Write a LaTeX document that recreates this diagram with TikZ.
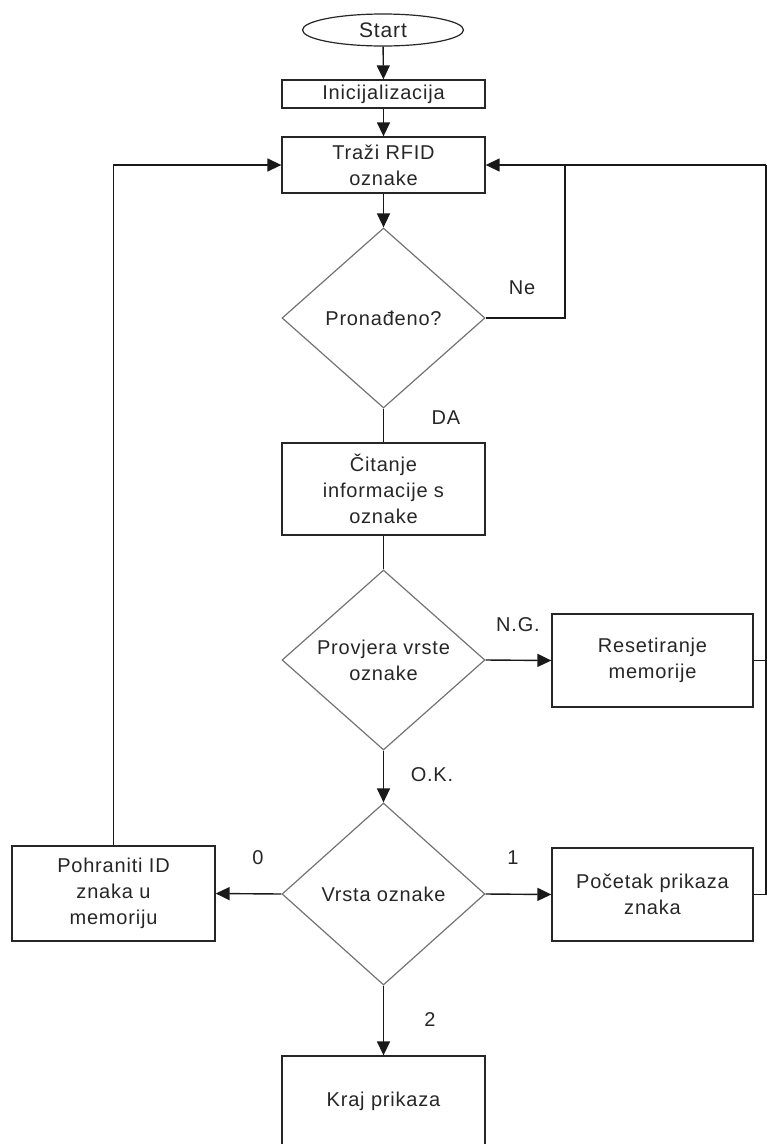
\documentclass[tikz,border=0pt]{standalone}
\usepackage{fontspec}
\setmainfont{Liberation Sans}[LetterSpace=4]
\usetikzlibrary{shapes.geometric,arrows.meta}
\begin{document}
\begin{tikzpicture}[x=1pt,y=-1pt,
  every node/.style={font=\fontsize{20}{26}\selectfont, text=black!85},
  box/.style={draw=black!85, line width=1.3pt, rectangle, inner sep=0pt, align=center},
  dia/.style={draw=black!55, line width=1.2pt, diamond, inner sep=0pt, minimum width=203pt, minimum height=180pt, aspect=1.128, align=center},
  line/.style={draw=black!90, line width=1.4pt},
  arr/.style={line, -{Triangle[length=14pt,width=13pt]}},
  lbl/.style={font=\fontsize{20}{22}\selectfont}]
\useasboundingbox (0,0) rectangle (767,1144);
\node[draw=black!85, line width=1.2pt, ellipse, minimum width=161pt, minimum height=32pt, inner sep=0pt, font=\fontsize{21}{24}\selectfont] (start) at (383,30) {Start};
\node[box, minimum width=203pt, minimum height=28pt] (init) at (383.5,94) {Inicijalizacija};
\node[box, minimum width=203pt, minimum height=56pt] (trazi) at (383.5,165) {Traži RFID\\oznake};
\node[dia] (pron) at (383.5,318) {Pronađeno?};
\node[box, minimum width=203pt, minimum height=92pt] (citanje) at (383.5,489) {Čitanje\\informacije s\\oznake};
\node[dia] (provj) at (383.5,660) {Provjera vrste\\oznake};
\node[box, minimum width=201pt, minimum height=93pt] (reset) at (652.5,660.5) {Resetiranje\\memorije};
\node[dia, minimum height=182pt] (vrsta) at (383.5,894) {Vrsta oznake};
\node[box, minimum width=203pt, minimum height=95pt] (pohr) at (113.5,893.5) {Pohraniti ID\\znaka u\\memoriju};
\node[box, minimum width=201pt, minimum height=93pt] (poc) at (652.5,894.5) {Početak prikaza\\znaka};
\node[box, minimum width=203pt, minimum height=90pt] (kraj) at (383.5,1101) {Kraj prikaza};
\coordinate (ne) at (565,165);
\coordinate (rt) at (766,165);
\draw[arr] (start) -- (init);
\draw[arr] (init) -- (trazi);
\draw[arr] (trazi) -- (pron.north);
\draw[line] (pron.east) -| (ne);
\draw[arr] (rt) -- (trazi.east);
\draw[line] (reset.east) -- (reset.east -| rt) -- (rt);
\draw[line] (poc.east) -- (poc.east -| rt) -- (reset.east -| rt);
\draw[line] (pron.south) -- (citanje.north);
\draw[line] (citanje.south) -- (provj.north);
\draw[arr] (provj.east) -- (reset.west);
\draw[arr] (provj.south) -- (vrsta.north);
\draw[arr] (vrsta.west) -- (pohr.east);
\draw[arr] (vrsta.east) -- (poc.west);
\draw[arr] (vrsta.south) -- (kraj.north);
\draw[arr] (pohr.north) |- (trazi.west);
\node[lbl] (lne) at (522,288) {Ne};
\node[lbl] (lda) at (446,418) {DA};
\node[lbl] (lng) at (518,625) {N.G.};
\node[lbl] (lok) at (432,775) {O.K.};
\node[lbl] (l0) at (258,858) {0};
\node[lbl] (l1) at (513,858) {1};
\node[lbl] (l2) at (430,1020) {2};
\end{tikzpicture}
\end{document}
